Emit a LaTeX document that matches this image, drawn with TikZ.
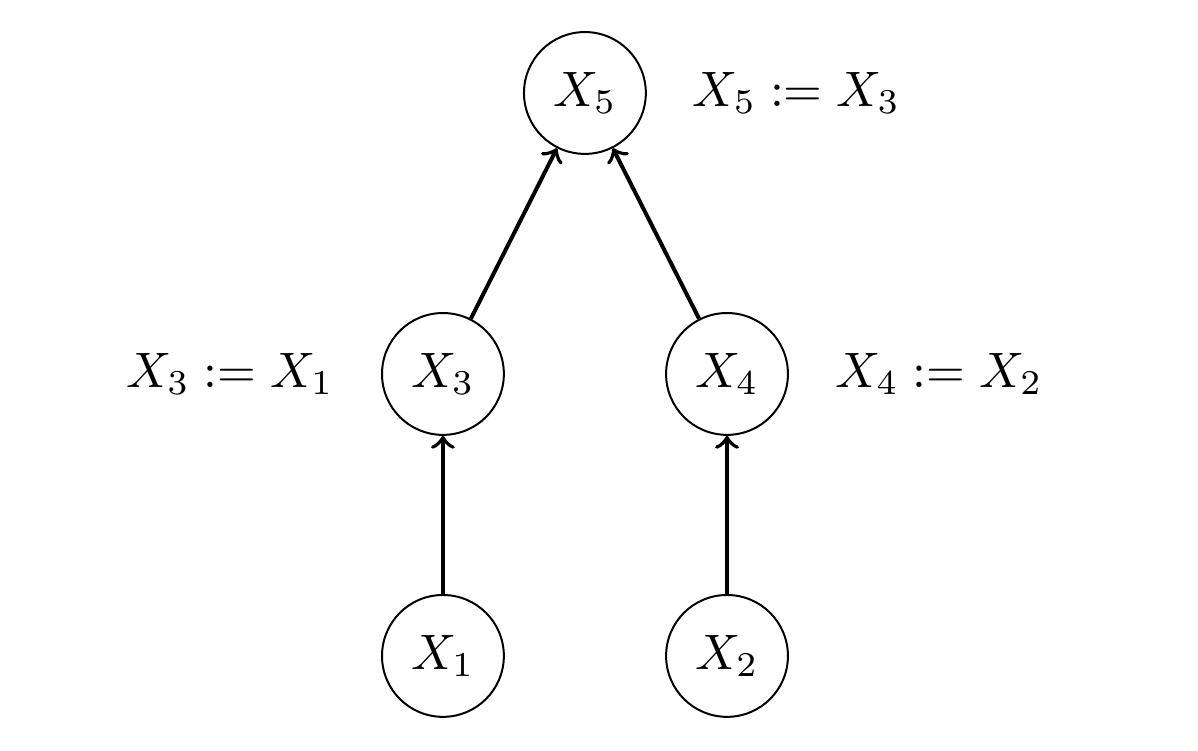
\documentclass[tikz,border=0pt]{standalone}
\usetikzlibrary{arrows}
\begin{document}
\begin{tikzpicture}[
  var/.style={draw, circle, minimum size=0.86cm, inner sep=0pt},
  edge/.style={->, thick},
  lbl/.style={inner sep=0pt}
]
\useasboundingbox (0,0) rectangle (8.455,-5.30);
\node[var] (x5) at (4.128,-0.656) {$X_5$};
\node[var] (x3) at (3.126,-2.639) {$X_3$};
\node[var] (x4) at (5.131,-2.639) {$X_4$};
\node[var] (x1) at (3.126,-4.629) {$X_1$};
\node[var] (x2) at (5.131,-4.629) {$X_2$};
\node[lbl] (l5) at (5.621,-0.656) {$X_5 := X_3$};
\node[lbl] (l3) at (1.623,-2.639) {$X_3 := X_1$};
\node[lbl] (l4) at (6.627,-2.639) {$X_4 := X_2$};
\draw[edge] (x3) -- (x5);
\draw[edge] (x4) -- (x5);
\draw[edge] (x1) -- (x3);
\draw[edge] (x2) -- (x4);
\end{tikzpicture}
\end{document}
